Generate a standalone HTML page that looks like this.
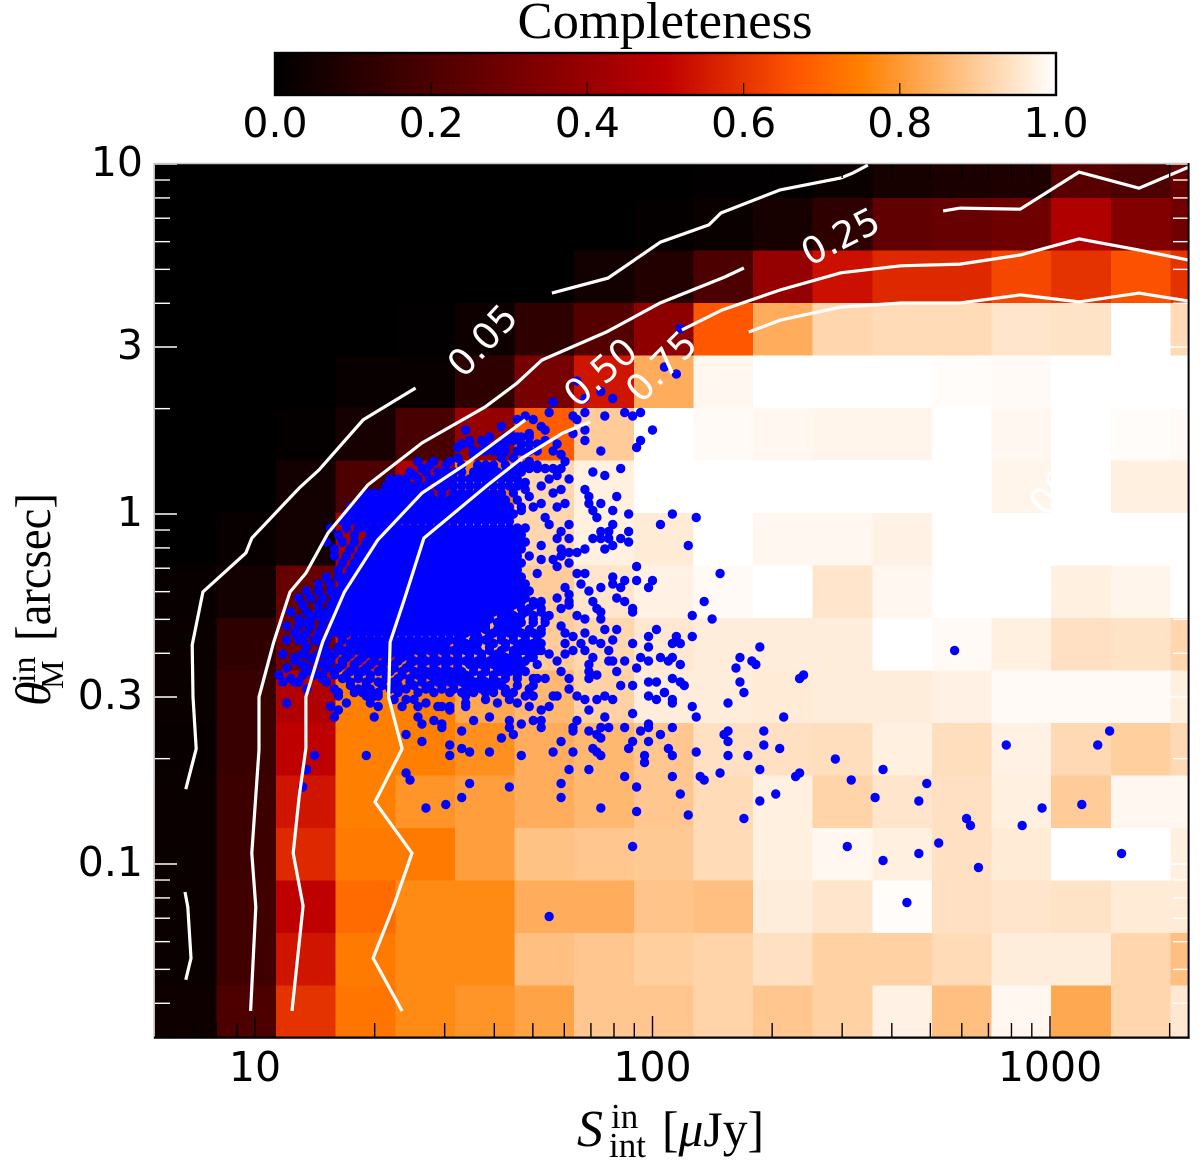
<!DOCTYPE html>
<html lang="en">
<head>
<meta charset="utf-8">
<title>Completeness map</title>
<style>
html,body{margin:0;padding:0;background:#fff;width:1200px;height:1164px;overflow:hidden}
svg{display:block}
.tick{font-family:"DejaVu Sans","Liberation Sans",sans-serif;font-size:41px;fill:#000}
.clabel{font-family:"DejaVu Sans","Liberation Sans",sans-serif;font-size:37px;fill:#fff}
.math{font-family:"Liberation Serif","DejaVu Serif",serif;fill:#000}
</style>
</head>
<body>
<svg id="chart" width="1200" height="1164" viewBox="0 0 1200 1164" xmlns="http://www.w3.org/2000/svg">
  <defs>
    <clipPath id="plot-clip"><rect x="154.5" y="164" width="1034" height="874"/></clipPath>
    <linearGradient id="cbar-gradient" x1="0" x2="1" y1="0" y2="0"></linearGradient>
  </defs>
  <text class="math" x="665" y="38" font-size="52" text-anchor="middle" textLength="295" lengthAdjust="spacingAndGlyphs">Completeness</text>
  <rect x="275" y="53" width="781" height="42" fill="url(#cbar-gradient)" stroke="#000" stroke-width="2.4"/>
  <g id="cells" clip-path="url(#plot-clip)" shape-rendering="crispEdges"></g>
  <g id="dots" clip-path="url(#plot-clip)"></g>
  <g id="contours" clip-path="url(#plot-clip)" fill="none" stroke="#fff" stroke-width="3.2" stroke-linejoin="miter"></g>
  <g id="contour-labels"></g>
  <g id="axis-ticks"></g>
  <line x1="154.5" y1="163.5" x2="1189" y2="163.5" stroke="#c8c8c8" stroke-width="1.6"/>
  <line x1="154.2" y1="163" x2="154.2" y2="1039" stroke="#bdbdbd" stroke-width="1.6"/>
  <line x1="154" y1="1037.6" x2="1189.6" y2="1037.6" stroke="#000" stroke-width="2.2"/>
  <line x1="1188.6" y1="163" x2="1188.6" y2="1038.6" stroke="#000" stroke-width="2"/>
  <g id="tick-labels"></g>
  <g>
    <text class="math" x="577" y="1146" font-size="52" font-style="italic">S</text>
    <text class="math" x="611" y="1128" font-size="35">in</text>
    <text class="math" x="609" y="1157" font-size="35">int</text>
    <text class="math" x="662" y="1146" font-size="50" textLength="102" lengthAdjust="spacingAndGlyphs">[<tspan font-style="italic">μ</tspan>Jy]</text>
  </g>
  <g transform="translate(50,706) rotate(-90)">
    <text class="math" x="0" y="0" font-size="50" font-style="italic">θ</text>
    <text class="math" x="23" y="-15" font-size="34">in</text>
    <text class="math" x="17" y="13" font-size="32">M</text>
    <text class="math" x="65" y="0" font-size="50" textLength="148" lengthAdjust="spacingAndGlyphs">[arcsec]</text>
  </g>
</svg>
<script>
// Units: flux and size positions are stored in hundredths of a dex (100*log10).
var xTickMajor = [10, 100, 1000];
var xTickMinor = [6, 7, 8, 9, 20, 30, 40, 50, 60, 70, 80, 90, 200, 300, 400, 500, 600, 700, 800, 900, 2000];
var yTickMajor = [10, 3, 1, 0.3, 0.1];
var yTickMinor = [9, 8, 7, 6, 5, 4, 2, 0.9, 0.8, 0.7, 0.6, 0.5, 0.4, 0.2, 0.09, 0.08, 0.07, 0.06, 0.05, 0.04];
var xTickLabels = ["10", "100", "1000"];
var yTickLabels = ["10", "3", "1", "0.3", "0.1"];
var cbarTicks = [0, 0.2, 0.4, 0.6, 0.8, 1];
var cbarLabels = ["0.0", "0.2", "0.4", "0.6", "0.8", "1.0"];
var cbarStops = [0, 0.5, 0.6667, 0.75, 1];
var binFluxStart = 75.3;
var binSizeStart = -149.7;
var binWidth = 15;
var completeness = [
[0,0,0,0,0,0,0,0,0,.005,.005,.03,.06,.07,.08,.23,.2,.27],
[0,0,0,0,0,0,0,0,.01,.03,.06,.12,.25,.27,.29,.46,.34,.3],
[0,0,0,0,0,0,.003,.05,.09,.2,.39,.53,.58,.58,.64,.6,.66,.6],
[0,0,0,0,.005,.04,.12,.22,.37,.67,.84,.92,.93,.93,.95,.945,1,.93],
[0,0,.003,.02,.02,.12,.31,.54,.84,.985,1,1,1,.995,.99,1,1,1],
[0,0,.01,.06,.19,.39,.68,.9,1,.99,.985,.98,.98,1,.985,1,.995,.99],
[0,.002,.05,.2,.45,.75,.92,.97,1,1,1,1,1,1,.98,1,.97,.97],
[.002,.02,.05,.43,.62,.85,.92,.97,.96,1,.985,.985,.975,1,1,1,1,1],
[.02,.05,.27,.44,.66,.85,.9,.95,.975,.99,1,.95,.985,1,1,.97,.98,1],
[.03,.12,.3,.55,.76,.85,.9,.92,.955,.965,.965,.965,1,.99,.97,.94,.945,.92],
[.03,.15,.46,.75,.75,.83,.86,.91,.965,.965,.96,.965,.965,.975,.99,.99,.99,.97],
[.02,.15,.5,.75,.75,.78,.84,.86,.89,.94,.94,.935,.97,.935,.975,.925,.905,.925],
[.03,.16,.54,.75,.79,.81,.84,.86,.89,.93,.97,.915,.95,.94,.97,.9,.985,.985],
[.03,.16,.58,.74,.74,.81,.88,.89,.895,.93,.97,.985,.97,.94,.96,1,1,.97],
[.03,.17,.5,.71,.77,.77,.84,.84,.885,.875,.965,.95,.995,.94,.95,.945,.96,.96],
[.03,.17,.54,.74,.77,.77,.875,.89,.905,.915,.94,.91,.91,.93,.965,.965,.92,.875],
[.04,.2,.6,.73,.77,.79,.82,.89,.89,.915,.89,.91,.975,.875,.985,.83,.92,.955]
];
var contour05a = [[82.6,-78.6],[85.2,-67.1],[84.4,-52.3],[84.2,-37.4],[86.9,-22.3],[97.7,-11.1],[99.2,-6.9],[111.1,7.4],[116.1,12.6],[127.2,26.9],[140.4,36]];
var contour05b = [[174.7,63.1],[188.8,67.4],[202,77.7],[214.2,82.6],[217.2,86],[232.1,92.6],[247.4,96],[250.4,97.4],[254.2,99.7]];
var contour05c = [[82.4,-108],[83.1,-112.3],[83.9,-126.9],[82.6,-133.1]];
var contour25a = [[98.9,-142],[100.2,-112.3],[99.2,-96.9],[101,-67.4],[101,-52.3],[104.7,-36.6],[108.8,-22.3],[112.8,-16.9],[118.4,-5.4],[128.4,8.3],[142,20.3],[157.9,30.6],[165.9,37.4],[172.2,44],[188.4,52],[201.9,60.3],[218.2,67.7],[223,70.3]];
var contour25b = [[273.1,86.6],[277.4,87.4],[292.5,87.1],[307.3,97.7],[322.4,93.1],[334.8,99.1]];
var contour50a = [[109.3,-142],[112.1,-112],[109.6,-96.9],[111.1,-80.9],[112.8,-66.9],[112.8,-52.3],[117,-36.6],[122.5,-22.3],[130.9,-7.4],[142,6],[152.7,14],[168,26.9]];
var contour50b = [[207.4,52.6],[217.5,58.3],[232.1,64],[247.4,68.9],[262.5,70.9],[277.4,71.4],[292.5,74],[307.3,78.6],[322.4,75.4],[334.7,72.6]];
var contour75a = [[137,-142],[129.7,-126.9],[134.8,-112.3],[139.5,-96.9],[130.2,-82.3],[137,-67.1],[133.6,-52.3],[134,-36.6],[137.5,-24.6],[142.5,-6.9],[158.6,8.3],[167.2,16],[177.4,23.1],[184.3,26.3]];
var contour75b = [[224.2,52],[232.2,55.4],[247.4,59.1],[262.5,60.3],[277.4,60.3],[292.5,62.6],[307.3,60.6],[322.4,63.1],[334.7,60.9]];
var contourText = ["0.05", "0.25", "0.50", "0.75", "1.00"];
var contourTextFlux = [157.1, 247.2, 186.8, 202.1, 297.5];
var contourTextSize = [49.7, 79.4, 40.6, 42.3, 2.6];
var contourTextAngle = [-47, -27, -41, -45, -50];
var sparseDetections = [
318,-97,315,-62,312,-66,308,-83,298,-84,293,-89,289,-66,282,-101,280,-89,279,-87,276,-39,272,-94,267,-97,264,-111,258,-99,249,-95,269,-77,267,-82,256,-81,258,-73,250,-76,246,-70,236,-75,237,-74,231,-80,227,-82,223,-87,227,-73,232,-67,228,-66,228,-62,233,-58,237,-47,238,-46,227,-38,225,-42,226,-43,222,-41,221,-44,222,-48,223,-51,219,-54,219,-62,218,-63,219,-65,219,-69,224,-69,217,-74,213,-76,212,-75,211,-68,205,-61,204,-67,205,-69,205,-75,207,-80,209,-86,210,-55,211,-58,205,-53,205,-54,203,-51,208,-49,207,-48,205,-47,207,-43,204,-42,210,-35,206,-35,207,-37,205,-37,215,-30,210,-29,213,-25,211,-1,205,0,202,-3,209,-9,217,-17,207,53,203,42,206,40,
174,-115,195,-95,196,-85,187,-84,177,-81,177,-77,164,-78,154,-77,152,-81,148,-83,143,-84,139,-76,138,-74,128,-69,115,-69,113,-73,112,-78,108,-54,138,-63,142,-65,149,-66,149,-69,152,-67,154,-68,159,-68,167,-69,175,-68,177,-65,180,-68,179,-73,184,-73,185,-67,186,-68,187,-69,193,-75,196,-78,194,-67,195,-65,198,-69,198,-71,199,-65,202,-63,197,-62,193,-61,199,-60,199,-61,187,-61,189,-61,186,-63,187,-64,184,-62,180,-61,180,-62,172,-61,167,-60,165,-63,164,-61,162,-64,155,-59,152,-62,147,-60,147,-61,145,-59,142,-60,141,-58,130,-58,120,-58,121,-56,119,-55,159,-58,172,-59,170,-59,164,-59,195,-57,188,-58,181,-59,184,-56,
123,-54,121,-52,125,-51,128,-52,130,-52,131,-52,129,-54,131,-55,135,-53,137,-55,138,-53,140,-53,141,-55,143,-54,146,-55,147,-55,149,-56,149,-55,153,-55,153,-54,153,-52,158,-53,158,-51,161,-54,164,-53,166,-54,168,-52,169,-55,172,-56,174,-55,170,-52,175,-52,176,-52,181,-52,183,-53,186,-53,188,-52,190,-53,199,-52,201,-53,203,-51,201,-48,199,-48,195,-49,192,-49,
181,38,183,33,187,35,190,33,175,32,174,29,168,28,166,27,170,27,180,28,181,27,183,29,188,28,193,29,195,28,197,29,200,24,172,25,173,24,162,25,153,24,183,24,180,23,169,23,157,21,159,22,154,21,173,21,183,21,176,20,197,21,196,19,152,20,151,19,169,20,167,18,161,20,165,21,166,22,187,18,192,13,185,12,188,11,141,15,145,15,149,15,178,15,177,17,175,18,151,16,155,17,157,18,160,18,162,16,165,16,169,15,173,13,179,10,176,11,174,10,136,10,142,13,140,11,183,7,184,5,187,3,184,3,185,1,191,5,190,1,194,0,186,-1,178,3,168,9,168,7,169,5,172,8,175,6,177,7,172,3,167,1,170,2,173,-1,174,-3,179,-3,176,2,190,-3,189,-5,194,-5,192,-7,194,-8,187,-5,185,-7,187,-7,188,-10,190,-9,189,-7,183,-10,181,-11,179,-11,177,-10,177,-12,172,-9,177,-5,179,-7,176,-7,169,-12,172,-13,175,-13,176,-15,179,-14,196,-15,181,-17,183,-17,182,-20,190,-18,193,-19,190,-20,196,-19,200,-19,199,-21,184,-22,187,-21,192,-21,178,-21,179,-23,176,-24,171,-17,191,-24,193,-25,185,-25,186,-27,195,-27,179,-25,195,-28,201,-33,199,-35,199,-38,195,-37,191,-33,190,-36,188,-33,187,-37,185,-36,182,-37,181,-29,187,-28,187,-30,183,-34,183,-30,177,-27,179,-26,177,-32,178,-34,180,-35,183,-39,189,-39,193,-42,191,-45,197,-41,196,-44,199,-42,202,-41,205,-41,185,-41,184,-43,184,-45,189,-42,190,-42,186,-46,184,-47,179,-47,179,-50,177,-45,176,-42,178,-40,180,-39,178,-37,173,-47,171,-47,167,-44,169,-41,172,-39,174,-40,168,-36,172,-34,172,-37,173,-30,170,-31,167,-39,163,-42,165,-44,162,-45,158,-48,156,-48,160,-50,165,-51,169,-50,109,-47,110,-48,110,-41,111,-36,113,-45,115,-46,117,-47,120,-46,112,-35,113,-31,115,-29,117,-29,116,-36,117,-39
];
var denseRowSizes = [22,20,18,14,13,12,10,8,6,4,2,0,-2,-4,-6,-8,-10,-12,-14,-16,-18,-20,-22,-24,-25,-26,-27,-28,-29,-30,-31,-32,-33,-34,-35,-36,-37,-38,-39,-40,-41,-42,-43,-44,-45,-46,-47,-48,-49,-50,-51];
var denseRowFluxes = [
[163,165,167,169],
[152,154,158,161,163,167,171],
[155,158,161,163,166,169,171],
[144,148,152,156,158,160,163,166,168,171],
[169,171,173,175,177],
[139,143,146,148,150,152,155,157,159,161,163,165,167],
[134,138,141,144,146,148,150,152,154,156,158,160,162,164,166],
[133,135,137,139,141,143,146,148,150,152,154,156,158,160,162,164,166],
[128,130,132,134,136,138,140,142,144,147,150,152,154,156,158,160,162,165],
[127,129,131,133,135,137,139,141,143,145,147,149,151,153,155,157,159,161,163,166],
[124,126,128,130,132,134,136,138,140,142,144,146,148,150,152,154,156,158,160,162,164,167],
[123,125,127,129,131,133,135,137,139,141,143,145,147,149,151,153,155,157,159,161,163,165],
[122,124,126,128,130,132,134,136,138,140,142,144,146,148,150,152,154,156,158,160,162,164],
[119,123,126,128,130,132,134,136,138,140,142,144,146,148,150,152,154,156,158,160,162,164,166,168],
[121,125,129,131,133,135,137,139,141,143,145,147,149,151,153,155,157,159,161,163,165,167],
[118,122,125,128,130,132,134,136,138,140,142,144,146,148,150,152,154,156,158,160,162,164,166,168],
[120,124,127,129,131,133,135,137,139,141,143,145,147,149,151,153,155,157,159,161,163,165,167],
[120,123,126,128,130,132,134,136,138,140,142,144,146,148,150,152,154,156,158,160,162,164,166],
[122,125,127,129,131,133,135,137,139,141,143,145,147,149,151,153,155,157,159,161,163,165,167],
[121,124,126,128,130,132,134,136,138,140,142,144,146,148,150,152,154,156,158,160,162,164,166],
[118,121,123,125,127,129,131,133,135,137,139,141,143,145,147,149,151,153,155,157,159,161,163,165,167],
[116,119,122,124,126,128,130,132,134,136,138,140,142,144,146,148,150,152,154,156,158,160,162,164,166,168],
[113,116,119,121,123,125,127,129,131,133,135,137,139,141,143,145,147,149,151,153,155,157,159,161,163,165,167,169],
[111,114,117,120,122,124,126,128,130,132,134,136,138,140,142,144,146,148,150,152,154,156,158,160,162,164,166,168],
[167,170,172],
[112,116,119,121,123,125,127,129,131,133,135,137,139,141,143,145,147,149,151,153,155,157,159,161,163,165,170],
[164,167,169,172],
[109,113,116,118,120,122,124,126,128,130,132,134,136,138,140,142,144,146,148,150,152,154,156,158,160,162,164,168,172],
[162,165,167,170,174],
[111,114,117,119,121,123,125,127,129,131,133,135,137,139,141,143,145,147,149,151,153,155,157,159,163,166,170],
[158,161,164,167,170,173],
[108,111,114,117,120,122,124,126,128,130,132,134,136,138,140,142,144,146,148,150,152,154,156,158,162,165],
[156,158,161,163,166,169,172],
[110,113,116,119,121,123,125,127,129,131,133,135,137,139,141,143,145,147,149,151,153,155,160,164,167,170],
[152,156,159,162,165,168,171],
[108,112,115,118,122,125,127,129,131,133,135,137,139,141,143,145,147,149,151,155,158,162,165,168,171],
[124,127,130,133,136,139,142,145,148,151,153,156,160,163,167,170],
[113,117,121,124,126,128,130,132,134,136,138,140,142,144,146,148,152,155,159,163,166,169],
[118,122,126,129,132,135,138,141,144,147,150,153,156,159,162,165,168,171],
[107,112,116,120,124,128,131,134,136,139,142,145,148,151,154,157,161,165,169],
[114,118,123,127,130,133,137,139,142,145,148,151,154,157,160,163,166,170],
[110,115,119,122,126,130,133,136,140,143,146,149,153,156,159,162,165,168],
[112,117,122,125,129,132,135,139,142,145,148,151,154,157,160,163,167,171],
[108,113,118,121,125,128,132,135,138,142,145,148,151,155,158,161,165],
[115,120,124,127,131,134,137,140,143,146,149,152,155,158,161,164,168],
[106,112,117,123,126,129,133,137,141,144,147,150,153,157,160,163,166],
[122,126,129,133,136,139,142,145,148,151,154,157,160,163,166,170],
[107,111,118,124,128,131,135,139,142,146,149,152,155,158,161],
[124,128,132,136,140,144,147,150,153,156,159,162,166,170],
[113,120,126,129,134,138,143,147,150,154,157,163],
[121,127,131,136,141,145,149,152,155,160,163]
];

var SVGNS = "http://www.w3.org/2000/svg";
function X(c) { return 255 + (c - 100) * 3.975; }
function Y(c) { return 514 - c * 3.5; }
function xOf(v) { return X(100 * Math.log10(v)); }
function yOf(v) { return Y(100 * Math.log10(v)); }
function cbarX(v) { return 275 + v * 781; }
function clamp01(v) { return Math.max(0, Math.min(1, v)); }
function heat(v) {
  var r = Math.round(255 * clamp01(1.5 * v));
  var g = Math.round(255 * clamp01(2 * v - 1));
  var b = Math.round(255 * clamp01(4 * v - 3));
  return "rgb(" + r + "," + g + "," + b + ")";
}
function make(tag, parent, attrs) {
  var el = document.createElementNS(SVGNS, tag);
  for (var k in attrs) { el.setAttribute(k, attrs[k]); }
  parent.appendChild(el);
  return el;
}
var cellsG = document.getElementById("cells");
completeness.forEach(function (row, i) {
  row.forEach(function (v, j) {
    var x0 = j === 0 ? 154 : X(binFluxStart + j * binWidth);
    var x1 = X(binFluxStart + (j + 1) * binWidth);
    var y1 = Y(binSizeStart + (completeness.length - 1 - i) * binWidth);
    var y0 = Y(binSizeStart + (completeness.length - i) * binWidth);
    var el = make("rect", cellsG, { x: x0, y: y0, width: x1 - x0 + 0.4, height: y1 - y0 + 0.4, fill: heat(v) });
    
    
  });
});
var dotsG = document.getElementById("dots");
function addDot(cx, cy) {
  var el = make("circle", dotsG, { cx: X(cx), cy: Y(cy), r: 4.7, fill: "#0000ff" });
  
  
}
denseRowSizes.forEach(function (cy, i) {
  denseRowFluxes[i].forEach(function (cx) { addDot(cx, cy); });
});
for (var p = 0; p + 1 < sparseDetections.length; p += 2) { addDot(sparseDetections[p], sparseDetections[p + 1]); }

var contoursG = document.getElementById("contours");
[contour05a, contour05b, contour05c, contour25a, contour25b, contour50a, contour50b, contour75a, contour75b].forEach(function (line) {
  var pts = line.map(function (q) { return X(q[0]).toFixed(1) + "," + Y(q[1]).toFixed(1); }).join(" ");
  var el = make("polyline", contoursG, { points: pts });
  
  
});
var labelsG = document.getElementById("contour-labels");
contourText.forEach(function (t, i) {
  var lx = X(contourTextFlux[i]);
  var ly = Y(contourTextSize[i]);
  var el = make("text", labelsG, { "class": "clabel", x: lx, y: ly, dy: "0.36em", "text-anchor": "middle", transform: "rotate(" + contourTextAngle[i] + " " + lx + " " + ly + ")" });
  el.textContent = t;
  
  
});

var ticksG = document.getElementById("axis-ticks");
function tickLine(x1, y1, x2, y2, color) {
  var el = make("line", ticksG, { x1: x1, y1: y1, x2: x2, y2: y2, stroke: color, "stroke-width": 1.4 });
  
  
}
function xTicks(list, len) {
  list.forEach(function (v) {
    var x = xOf(v);
    tickLine(x, 1037, x, 1037 - len, "#000");
    tickLine(x, 164, x, 164 + len, "#000");
  });
}
function yTicks(list, len) {
  list.forEach(function (v) {
    var y = yOf(v);
    tickLine(155, y, 155 + len, y, "#fff");
    tickLine(1188, y, 1188 - len, y, "#fff");
  });
}
xTicks(xTickMajor, 21);
xTicks(xTickMinor, 14);
yTicks(yTickMajor, 22);
yTicks(yTickMinor, 15);

var tl = document.getElementById("tick-labels");
xTickMajor.forEach(function (v, i) {
  var el = make("text", tl, { "class": "tick", x: xOf(v), y: 1081, "text-anchor": "middle" });
  el.textContent = xTickLabels[i];
  
  
});
yTickMajor.forEach(function (v, i) {
  var el = make("text", tl, { "class": "tick", x: 143, y: yOf(v) + 12, "text-anchor": "end" });
  el.textContent = yTickLabels[i];
  
  
});
cbarTicks.forEach(function (v, i) {
  var el = make("text", tl, { "class": "tick", x: cbarX(v), y: 137, "text-anchor": "middle" });
  el.textContent = cbarLabels[i];
  
  
});
var grad = document.getElementById("cbar-gradient");
cbarStops.forEach(function (s) {
  make("stop", grad, { offset: s, "stop-color": heat(s) });
});
var chartEl = document.getElementById("chart");
cbarTicks.slice(1, 5).forEach(function (v) {
  var el = make("line", chartEl, { x1: cbarX(v), x2: cbarX(v), y1: 94, y2: 83, stroke: "#000", "stroke-width": 1.2 });
  
  
});
</script>
</body>
</html>
